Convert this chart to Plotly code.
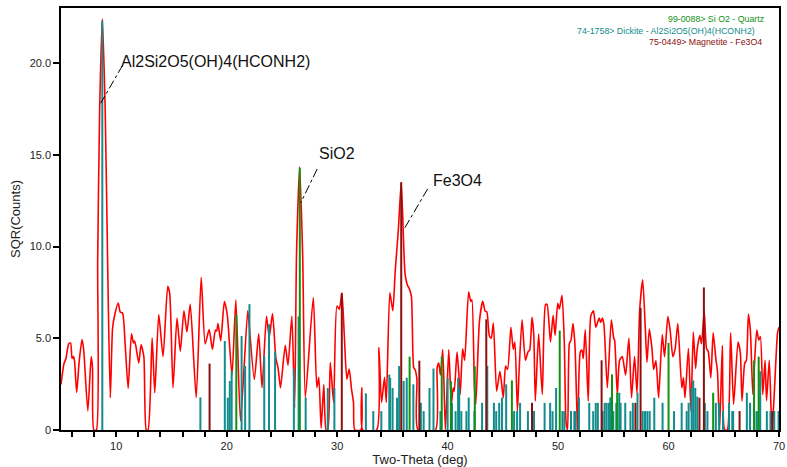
import plotly.graph_objects as go

# ---------------- data ----------------
# measured pattern (Two-Theta deg, SQR(Counts))
scan_theta = [5.0, 5.27, 5.45, 5.69, 5.87, 6.0, 6.13, 6.22, 6.42, 6.64, 6.9, 7.05, 7.43, 7.73, 7.85, 7.97, 8.2,
              8.32, 8.5, 8.74, 9.0, 9.22, 9.46, 9.67, 9.88, 10.18, 10.36, 10.57, 10.81, 11.08, 11.38, 11.56, 11.65,
              11.77, 12.04, 12.25, 12.5, 12.72, 12.88, 13.25, 13.49, 13.85, 14.24, 14.66, 14.84, 15.14, 15.5, 15.8,
              16.13, 16.4, 16.7, 17.24, 17.69, 18.05, 18.41, 18.71, 18.98, 19.1, 19.21, 19.46, 19.79, 20.05, 20.48,
              20.83, 21.25, 21.9, 22.0, 22.5, 22.9, 23.2, 23.6, 23.85, 24.15, 24.45, 24.66, 24.87, 25.3, 25.55, 25.9,
              26.15, 26.32, 26.6, 26.88, 27.12, 27.84, 28.16, 28.34, 28.55, 28.79, 29.0, 29.15, 29.38, 29.68, 29.98,
              30.2, 30.43, 30.65, 30.88, 31.09, 31.3, 31.48, 31.6, 32.15, 32.23, 32.32, 33.57, 33.78, 34.02, 34.29,
              34.45, 34.77, 35.04, 35.25, 35.4, 35.55, 35.8, 36.0, 36.15, 36.4, 36.5, 36.72, 36.93, 37.05, 37.22,
              37.32, 38.9, 39.05, 39.2, 39.35, 39.56, 39.8, 40.1, 40.34, 40.5, 40.6, 40.85, 41.0, 41.14, 41.36, 41.54,
              41.9, 42.1, 42.2, 42.43, 42.55, 42.88, 43.18, 43.4, 43.55, 43.78, 43.95, 44.14, 44.44, 44.74, 45.04,
              45.25, 45.43, 45.73, 45.94, 46.09, 46.32, 46.47, 46.74, 47.04, 47.28, 47.43, 47.64, 47.8, 47.94, 48.24,
              48.57, 48.86, 49.0, 49.31, 49.55, 49.73, 49.97, 50.12, 50.36, 50.57, 50.72, 50.86, 51.02, 51.17, 51.35,
              51.53, 51.77, 52.01, 52.16, 52.28, 52.46, 52.73, 52.96, 53.2, 53.42, 53.72, 53.85, 54.01, 54.15, 54.46,
              54.82, 55.04, 55.12, 55.36, 55.57, 55.81, 56.11, 56.41, 56.65, 56.92, 57.15, 57.39, 57.66, 57.9, 58.05,
              58.26, 58.5, 58.65, 58.86, 59.1, 59.43, 59.64, 59.94, 60.15, 60.39, 60.6, 60.84, 61.2, 61.35, 61.49,
              61.8, 62.03, 62.24, 62.45, 62.6, 62.84, 62.99, 63.23, 63.44, 63.59, 63.83, 64.04, 64.28, 64.43, 64.62,
              64.87, 65.08, 65.32, 65.62, 65.89, 66.29, 66.5, 66.65, 66.9, 67.04, 67.23, 67.41, 67.63, 67.78, 67.99,
              68.17, 68.32, 68.53, 68.74, 68.87, 69.12, 69.36, 69.57, 69.87, 70.0]
scan_sqr = [2.48, 3.62, 3.9, 4.69, 4.75, 3.9, 4.0, 3.8, 2.05, 3.7, 4.93, 4.4, 1.04, 4.0, 3.4, 0.0, 0.0,
            9.2, 17.5, 22.4, 17.5, 9.2, 1.76, 5.56, 6.32, 6.92, 6.43, 6.38, 4.66, 2.27, 5.24, 4.75, 4.85,
            4.6, 3.66, 4.64, 4.0, 0.0, 0.0, 5.02, 2.03, 6.29, 4.0, 7.83, 7.45, 2.3, 6.1, 4.29,
            6.5, 5.34, 6.86, 1.76, 8.32, 4.69, 5.47, 4.4, 5.45, 5.39, 5.8, 4.86, 7.0, 6.3, 3.0,
            7.08, 0.5, 6.5, 6.0, 2.75, 5.24, 2.3, 6.2, 5.06, 6.34, 3.93, 3.35, 2.3, 4.62, 3.53, 6.2,
            1.2, 9.5, 14.33, 9.5, 1.77, 7.22, 2.32, 2.87, 0.1, 2.48, 0.0, 0.0, 3.68, 1.5, 6.76,
            6.59, 7.48, 5.12, 2.77, 3.32, 2.23, 1.5, 0.0, 0.0, 2.28, 0.0, 0.0, 4.49, 1.5, 2.87,
            1.5, 7.48, 6.5, 8.6, 9.8, 11.0, 13.5, 10.5, 8.5, 7.84, 7.75, 7.28, 3.4, 3.3, 2.77,
            0.0, 0.0, 3.39, 3.65, 3.0, 4.38, 0.0, 4.38, 1.4, 2.3, 2.1, 4.25, 3.2, 1.94, 4.42, 3.8,
            7.52, 7.0, 7.1, 2.3, 1.4, 5.92, 7.01, 6.47, 6.45, 5.12, 5.0, 5.83, 2.12, 3.2, 1.76,
            3.48, 3.3, 5.6, 4.4, 4.8, 1.03, 3.2, 6.01, 3.8, 4.26, 4.35, 6.14, 5.2, 1.58, 5.23,
            1.94, 6.83, 6.85, 4.8, 6.25, 5.16, 6.9, 6.6, 7.34, 4.6, 0.45, 0.0, 4.7, 4.9, 5.8,
            4.6, 0.0, 4.26, 4.35, 3.9, 5.47, 1.58, 6.2, 6.5, 5.6, 6.1, 5.87, 6.1, 5.75, 2.3,
            6.0, 5.0, 4.9, 1.94, 3.8, 4.0, 3.0, 5.0, 1.76, 4.0, 2.0, 6.56, 8.19, 5.5, 3.7,
            5.5, 4.44, 3.3, 3.77, 1.76, 5.2, 4.0, 6.2, 5.4, 4.0, 4.44, 5.8, 2.3, 2.84, 1.76,
            4.44, 1.03, 5.34, 3.35, 4.43, 5.16, 4.7, 6.5, 4.43, 4.3, 2.84, 5.3, 3.9, 3.2, 0.0,
            4.6, 0.0, 0.0, 5.3, 1.4, 4.8, 4.2, 1.58, 3.66, 3.77, 6.3, 5.4, 1.94, 3.6, 5.45,
            4.9, 5.1, 1.94, 3.8, 1.6, 3.8, 0.0, 1.94, 5.3, 5.6]

# reference patterns (stick positions / heights)
dickite_theta = [8.74, 17.62, 19.83, 20.1, 20.28, 20.45, 21.35, 21.67, 22.06, 23.4, 23.83, 24.38, 26.08, 26.51,
                 27.15, 29.15, 29.75, 32.6, 33.27, 34.0, 34.72, 34.8, 35.02, 35.42, 35.61, 36.02, 36.3, 36.9,
                 37.58, 37.83, 38.36, 38.72, 39.35, 40.0, 40.4, 40.72, 40.95, 41.05, 41.24, 41.7, 41.91, 42.43,
                 43.12, 43.59, 44.19, 44.4, 44.67, 44.92, 45.3, 46.02, 46.29, 46.56, 47.27, 47.82, 48.78, 49.28,
                 49.5, 49.82, 50.39, 50.57, 51.17, 51.47, 51.6, 51.89, 52.82, 53.18, 53.41, 53.6, 54.04, 54.22,
                 54.4, 54.61, 54.73, 55.0, 55.27, 55.54, 55.66, 56.08, 56.55, 56.77, 57.19, 57.66, 57.87, 58.08,
                 58.29, 58.71, 59.46, 60.5, 61.19, 61.64, 61.82, 62.09, 62.24, 62.42, 62.6, 63.29, 63.52, 64.28,
                 64.58, 64.93, 65.48, 65.77, 65.85, 67.09, 67.38, 67.78, 68.0, 68.3, 68.9, 69.23, 69.57, 69.96]
dickite_sqr = [22.3, 1.78, 4.85, 1.76, 2.67, 3.21, 5.12, 3.49, 6.86, 4.02, 5.77, 4.28, 3.35, 6.19,
               1.77, 2.29, 2.29, 2.0, 1.03, 1.03, 3.02, 2.84, 2.29, 1.76, 3.49, 2.67, 2.85, 2.49,
               1.48, 1.03, 2.29, 3.35, 1.03, 2.85, 1.48, 1.03, 2.85, 2.29, 1.03, 1.03, 1.77, 1.03,
               1.48, 3.49, 1.48, 1.03, 1.48, 1.77, 2.49, 1.03, 1.03, 1.48, 1.03, 1.03, 1.48, 1.48,
               1.03, 2.29, 1.03, 1.03, 1.03, 1.03, 1.03, 1.78, 1.48, 1.03, 1.48, 1.48, 1.03, 1.48,
               1.48, 1.48, 1.78, 1.03, 1.48, 2.03, 1.48, 1.48, 1.03, 1.48, 2.03, 1.03, 1.03, 1.03,
               1.03, 1.76, 1.48, 1.03, 1.48, 1.03, 1.48, 2.29, 2.7, 2.29, 1.82, 1.48, 1.03, 1.48,
               1.48, 1.03, 1.48, 1.03, 1.03, 2.03, 1.48, 1.03, 1.03, 3.2, 1.03, 1.03, 1.03, 1.03]

quartz_theta = [20.87, 26.62, 36.56, 39.47, 40.3, 42.46, 45.82, 50.15, 54.88, 55.35, 60.0, 64.04, 67.74, 68.16]
quartz_sqr = [6.29, 14.3, 4.0, 4.0, 2.66, 3.48, 2.7, 5.42, 3.03, 2.03, 4.75, 2.03, 3.79, 4.0]

magnetite_theta = [18.45, 30.42, 35.8, 37.44, 43.5, 47.64, 53.94, 57.0, 57.47, 62.8, 63.2, 66.43, 69.4]
magnetite_sqr = [3.62, 7.45, 13.5, 3.78, 6.03, 1.48, 3.8, 1.48, 6.66, 1.76, 7.77, 1.03, 1.03]

legend_lines = ["99-0088> Si O2 - Quartz",
                "74-1758> Dickite - Al2Si2O5(OH)4(HCONH2)",
                "75-0449> Magnetite - Fe3O4"]

peak_labels = ["Al2Si2O5(OH)4(HCONH2)", "SiO2", "Fe3O4"]
peak_theta = [8.74, 26.62, 35.8]

x_tick_vals = list(range(6, 71, 2))
x_tick_text = [str(v) if v % 10 == 0 else "" for v in x_tick_vals]
y_tick_vals = [0, 5, 10, 15, 20]
y_tick_text = ["0", "5.0", "10.0", "15.0", "20.0"]

# ---------------- styles ----------------
RED = "#ff0000"
TEAL = "#128c8c"
GREEN = "#119111"
DRED = "#8b0f0f"
FONT = "Liberation Sans, Arial, sans-serif"


def sticks(pos, hts):
    xs, ys = [], []
    for p, h in zip(pos, hts):
        xs += [p, p, None]
        ys += [0, h, None]
    return xs, ys


fig = go.Figure()
fig.add_trace(go.Scatter(x=scan_theta, y=scan_sqr, mode="lines",
                         line=dict(color=RED, width=1.6, shape="spline", smoothing=0.6),
                         hoverinfo="skip"))
for pos, hts, col in [(dickite_theta, dickite_sqr, TEAL),
                      (quartz_theta, quartz_sqr, GREEN),
                      (magnetite_theta, magnetite_sqr, DRED)]:
    xs, ys = sticks(pos, hts)
    fig.add_trace(go.Scatter(x=xs, y=ys, mode="lines", line=dict(color=col, width=2),
                             hoverinfo="skip"))

# peak labels with dash-dot leaders
label_pos = [(10.23, 20.1), (28.19, 15.08), (38.48, 13.59)]
leader_start = [(10.59, 19.89), (28.19, 14.22), (38.19, 13.14)]
leader_end = [(8.59, 17.81), (26.70, 12.38), (36.09, 10.98)]
for txt, (lx, ly), (sx, sy), (ex, ey) in zip(peak_labels, label_pos, leader_start, leader_end):
    fig.add_annotation(x=lx, y=ly, xref="x", yref="y", text=txt, showarrow=False,
                       xanchor="left", yanchor="middle",
                       font=dict(family=FONT, size=16, color="#111"))
    fig.add_shape(type="line", x0=sx, y0=sy, x1=ex, y1=ey, xref="x", yref="y",
                  line=dict(color="black", width=1, dash="dashdot"))

# reference-pattern legend (top right)
leg_colors = [GREEN, TEAL, DRED]
leg_x = [671, 579, 652]
leg_y = [19, 31, 41.7]
for txt, col, lx, ly in zip(legend_lines, leg_colors, leg_x, leg_y):
    fig.add_annotation(x=(lx - 61) / 724, y=(431 - ly) / 423, xref="paper", yref="paper",
                       text=txt, showarrow=False, xanchor="left", yanchor="middle",
                       font=dict(family=FONT, size=8.8, color=col))

axis_common = dict(showline=True, linecolor="black", linewidth=1.5, mirror=True,
                   ticks="outside", tickcolor="black", tickwidth=1.5,
                   showgrid=False, zeroline=False, ticklabeloverflow="allow",
                   tickfont=dict(family=FONT, size=11, color="#222"))

fig.update_xaxes(range=[5, 70], tickmode="array", tickvals=x_tick_vals, ticktext=x_tick_text,
                 ticklen=5, title=dict(text="Two-Theta (deg)", standoff=4,
                                       font=dict(family=FONT, size=13, color="#222")),
                 **axis_common)
fig.update_yaxes(range=[0, 23], tickmode="array", tickvals=y_tick_vals, ticktext=y_tick_text,
                 ticklen=6, title=dict(text="SQR(Counts)", standoff=6,
                                       font=dict(family=FONT, size=13, color="#222")),
                 **axis_common)

fig.update_layout(width=787, height=467, margin=dict(l=61, r=2, t=8, b=36),
                  plot_bgcolor="white", paper_bgcolor="white", showlegend=False)

fig.write_html("out.html")
